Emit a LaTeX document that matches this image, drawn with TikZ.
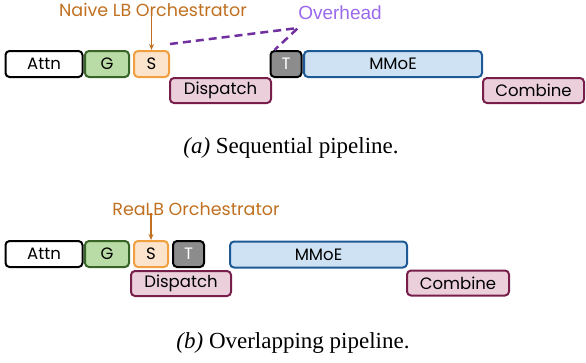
\documentclass[tikz,border=0pt]{standalone}
\usepackage{fontspec}
\setmainfont{Liberation Serif}
\newfontfamily\boxfont{Poppins}
\newfontfamily\arialfont{Liberation Sans}
\usetikzlibrary{arrows.meta}
\definecolor{attnB}{RGB}{0,0,0}
\definecolor{gF}{RGB}{185,219,166}
\definecolor{gB}{RGB}{56,100,40}
\definecolor{sF}{RGB}{252,228,204}
\definecolor{sB}{RGB}{240,160,64}
\definecolor{dF}{RGB}{235,208,220}
\definecolor{dB}{RGB}{120,30,75}
\definecolor{tF}{RGB}{140,140,140}
\definecolor{mF}{RGB}{207,226,243}
\definecolor{mB}{RGB}{30,90,150}
\definecolor{orch}{RGB}{192,112,32}
\definecolor{ovT}{RGB}{155,105,235}
\definecolor{ovL}{RGB}{112,48,160}
\tikzset{
  blk/.style={draw, line width=2pt, rounded corners=4pt, inner sep=0pt,
    font=\boxfont\fontsize{16.5}{18}\selectfont, text=black},
  orchlbl/.style={text=orch, font=\boxfont\fontsize{17.5}{19}\selectfont, inner sep=0pt},
  orcharrow/.style={draw=orch, line width=1.3pt, -{Stealth[length=6pt,width=5pt]}},
  caption/.style={font=\fontsize{23}{26}\selectfont, inner sep=0pt},
  ovdash/.style={draw=ovL, line width=2.5pt, dash pattern=on 8pt off 5pt}
}
\begin{document}
\begin{tikzpicture}[x=1pt,y=-1pt]
\useasboundingbox (0,0) rectangle (586,362);
% (a)
\node[blk, fill=white, minimum width=77pt, minimum height=26pt] (attnA) at (44,64) {Attn};
\node[blk, draw=gB, fill=gF, minimum width=44pt, minimum height=26pt] (gA) at (107,64) {G};
\node[blk, draw=sB, fill=sF, minimum width=35pt, minimum height=26pt] (sA) at (151.5,64) {S};
\node[blk, fill=tF, text=white, minimum width=31pt, minimum height=26pt] (tA) at (286,64) {T};
\node[blk, draw=mB, fill=mF, minimum width=178pt, minimum height=26pt] (mA) at (393,64) {MMoE};
\node[blk, draw=dB, fill=dF, minimum width=101pt, minimum height=25pt] (dA) at (220.5,90.5) {Dispatch};
\node[blk, draw=dB, fill=dF, minimum width=101pt, minimum height=25pt] (cA) at (533.5,90.5) {Combine};
\node[orchlbl] (oA) at (153,10) {Naive LB Orchestrator};
\draw[orcharrow] ([yshift=6pt]oA.south -| sA.north) -- (sA.north);
\node[text=ovT, font=\arialfont\fontsize{19}{21}\selectfont, inner sep=0pt] (ovA) at (340,13) {Overhead};
\coordinate (ovP) at (298,28);
\draw[ovdash] ([yshift=6pt]sA.north east) -- (ovP) -- ([xshift=5pt]tA.north west);
\node[caption] (capA) at (291,148) {\textit{(a)} Sequential pipeline.};
% (b)
\node[blk, fill=white, minimum width=77pt, minimum height=26pt] (attnB) at (44,254) {Attn};
\node[blk, draw=gB, fill=gF, minimum width=44pt, minimum height=26pt] (gB) at (107,254) {G};
\node[blk, draw=sB, fill=sF, minimum width=34pt, minimum height=26pt] (sB) at (151,254) {S};
\node[blk, fill=tF, text=white, minimum width=31pt, minimum height=26pt] (tB) at (188.5,254) {T};
\node[blk, draw=mB, fill=mF, minimum width=177pt, minimum height=26pt] (mB) at (318.5,254.5) {MMoE};
\node[blk, draw=dB, fill=dF, minimum width=100pt, minimum height=25pt] (dB) at (181,283.5) {Dispatch};
\node[blk, draw=dB, fill=dF, minimum width=102pt, minimum height=25pt] (cB) at (458,283) {Combine};
\node[orchlbl] (oB) at (196,209) {ReaLB Orchestrator};
\draw[orcharrow] ([yshift=3pt]oB.south -| sB.north) -- (sB.north);
\node[caption] (capB) at (293,343) {\textit{(b)} Overlapping pipeline.};
\end{tikzpicture}
\end{document}
